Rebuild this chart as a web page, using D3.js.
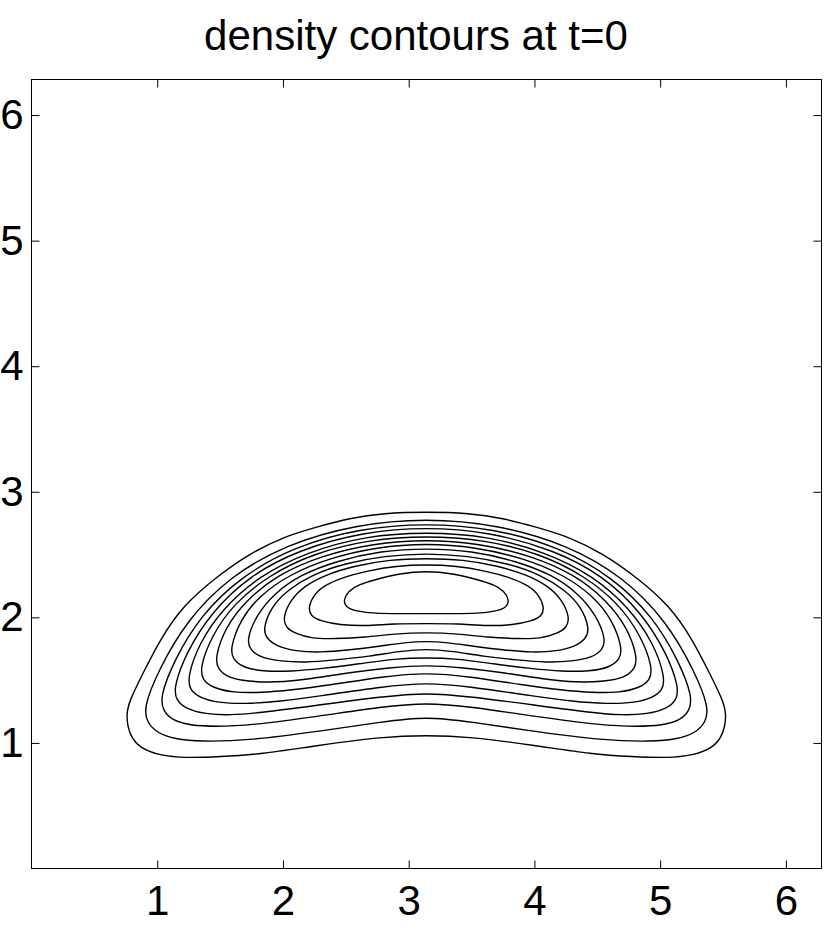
<!DOCTYPE html>
<html><head><meta charset="utf-8">
<script src="https://cdn.jsdelivr.net/npm/d3@7"></script>
<style>html,body{margin:0;padding:0;background:#fff;} svg{display:block;}</style>
</head><body><svg id="chart" width="830" height="929"></svg>
<script>
const titleText = "density contours at t=0";
const xTicks = [1, 2, 3, 4, 5, 6];
const yTicks = [1, 2, 3, 4, 5, 6];
const axisMax = 2 * Math.PI;

// Contour lines (outer to inner), [x, y] in data units
const contour1 = [[3.14,2.84],[2.80,2.83],[2.53,2.79],[2.27,2.72],[2.00,2.64],[1.74,2.51],[1.48,2.33],[1.21,2.10],[1.02,1.82],[0.89,1.56],[0.78,1.34],[0.75,1.22],[0.78,1.06],[0.86,0.96],[1.02,0.90],[1.22,0.88],[1.50,0.89],[1.82,0.91],[2.27,0.98],[2.80,1.05],[3.14,1.06],
  [3.48,1.05],[4.01,0.98],[4.46,0.91],[4.78,0.89],[5.06,0.88],[5.26,0.90],[5.42,0.96],[5.50,1.06],[5.53,1.22],[5.50,1.34],[5.39,1.56],[5.26,1.82],[5.07,2.10],[4.80,2.33],[4.54,2.51],[4.28,2.64],[4.01,2.72],[3.75,2.79],[3.48,2.83]];
const contour2 = [[3.14,2.79],[2.58,2.74],[2.02,2.58],[1.57,2.32],[1.23,1.97],[1.01,1.58],[0.89,1.28],[0.92,1.16],[1.00,1.08],[1.14,1.03],[1.34,1.01],[1.74,1.02],[2.27,1.09],[2.80,1.17],[3.14,1.21],
  [3.48,1.17],[4.01,1.09],[4.54,1.02],[4.94,1.01],[5.14,1.03],[5.28,1.08],[5.36,1.16],[5.39,1.28],[5.27,1.58],[5.05,1.97],[4.71,2.32],[4.26,2.58],[3.70,2.74]];
const contour3 = [[3.14,2.75],[2.61,2.71],[2.08,2.56],[1.66,2.32],[1.34,2.01],[1.13,1.65],[1.02,1.36],[1.05,1.25],[1.12,1.18],[1.26,1.14],[1.46,1.13],[1.74,1.14],[2.27,1.21],[2.80,1.29],[3.14,1.32],
  [3.48,1.29],[4.01,1.21],[4.54,1.14],[4.82,1.13],[5.02,1.14],[5.16,1.18],[5.23,1.25],[5.26,1.36],[5.15,1.65],[4.94,2.01],[4.62,2.32],[4.20,2.56],[3.67,2.71]];
const contour4 = [[3.14,2.72],[2.64,2.68],[2.13,2.54],[1.73,2.33],[1.43,2.04],[1.23,1.72],[1.13,1.44],[1.15,1.34],[1.23,1.27],[1.38,1.23],[1.58,1.22],[1.82,1.24],[2.27,1.30],[2.80,1.37],[3.14,1.40],
  [3.48,1.37],[4.01,1.30],[4.46,1.24],[4.70,1.22],[4.90,1.23],[5.05,1.27],[5.13,1.34],[5.15,1.44],[5.05,1.72],[4.85,2.04],[4.55,2.33],[4.15,2.54],[3.64,2.68]];
const contour5 = [[3.14,2.68],[2.66,2.65],[2.19,2.52],[1.81,2.33],[1.52,2.07],[1.33,1.79],[1.24,1.52],[1.26,1.42],[1.34,1.36],[1.48,1.32],[1.70,1.31],[1.98,1.33],[2.27,1.37],[2.80,1.45],[3.14,1.48],
  [3.48,1.45],[4.01,1.37],[4.30,1.33],[4.58,1.31],[4.80,1.32],[4.94,1.36],[5.02,1.42],[5.04,1.52],[4.95,1.79],[4.76,2.07],[4.47,2.33],[4.09,2.52],[3.62,2.65]];
const contour6 = [[3.14,2.65],[2.69,2.62],[2.24,2.51],[1.88,2.33],[1.61,2.11],[1.43,1.85],[1.34,1.60],[1.36,1.50],[1.44,1.44],[1.60,1.40],[1.82,1.40],[2.06,1.42],[2.37,1.46],[2.80,1.53],[3.14,1.56],
  [3.48,1.53],[3.91,1.46],[4.22,1.42],[4.46,1.40],[4.68,1.40],[4.84,1.44],[4.92,1.50],[4.94,1.60],[4.85,1.85],[4.67,2.11],[4.40,2.33],[4.04,2.51],[3.59,2.62]];
const contour7 = [[3.14,2.62],[2.72,2.59],[2.30,2.49],[1.96,2.34],[1.71,2.14],[1.54,1.92],[1.46,1.68],[1.48,1.59],[1.56,1.52],[1.72,1.49],[1.94,1.48],[2.22,1.51],[2.53,1.56],[2.85,1.60],[3.14,1.62],
  [3.43,1.60],[3.75,1.56],[4.06,1.51],[4.34,1.48],[4.56,1.49],[4.72,1.52],[4.80,1.59],[4.82,1.68],[4.74,1.92],[4.57,2.14],[4.32,2.34],[3.98,2.49],[3.56,2.59]];
const contour8 = [[3.14,2.59],[2.75,2.56],[2.36,2.47],[2.05,2.34],[1.81,2.17],[1.66,1.98],[1.58,1.75],[1.60,1.67],[1.68,1.60],[1.84,1.57],[2.06,1.57],[2.30,1.59],[2.61,1.63],[2.89,1.67],[3.14,1.68],
  [3.39,1.67],[3.67,1.63],[3.98,1.59],[4.22,1.57],[4.44,1.57],[4.60,1.60],[4.68,1.67],[4.70,1.75],[4.62,1.98],[4.47,2.17],[4.23,2.34],[3.92,2.47],[3.53,2.56]];
const contour9 = [[3.14,2.55],[2.78,2.53],[2.43,2.45],[2.14,2.34],[1.93,2.19],[1.79,2.02],[1.71,1.82],[1.74,1.74],[1.82,1.68],[1.98,1.65],[2.18,1.64],[2.41,1.66],[2.69,1.69],[2.93,1.73],[3.14,1.75],
  [3.35,1.73],[3.59,1.69],[3.87,1.66],[4.10,1.64],[4.30,1.65],[4.46,1.68],[4.54,1.74],[4.57,1.82],[4.49,2.02],[4.35,2.19],[4.14,2.34],[3.85,2.45],[3.50,2.53]];
const contour10 = [[3.14,2.51],[2.81,2.49],[2.49,2.43],[2.23,2.34],[2.04,2.22],[1.91,2.09],[1.84,1.91],[1.87,1.83],[1.95,1.77],[2.10,1.73],[2.30,1.72],[2.53,1.74],[2.77,1.77],[2.97,1.80],[3.14,1.81],
  [3.31,1.80],[3.51,1.77],[3.75,1.74],[3.98,1.72],[4.18,1.73],[4.33,1.77],[4.41,1.83],[4.44,1.91],[4.37,2.09],[4.24,2.22],[4.05,2.34],[3.79,2.43],[3.47,2.49]];
const contour11 = [[3.14,2.47],[2.85,2.46],[2.57,2.41],[2.34,2.34],[2.17,2.25],[2.06,2.14],[2.00,2.00],[2.02,1.92],[2.10,1.87],[2.23,1.83],[2.41,1.83],[2.65,1.84],[2.89,1.87],[3.14,1.88],
  [3.39,1.87],[3.63,1.84],[3.87,1.83],[4.05,1.83],[4.18,1.87],[4.26,1.92],[4.28,2.00],[4.22,2.14],[4.11,2.25],[3.94,2.34],[3.71,2.41],[3.43,2.46]];
const contour12 = [[3.14,2.42],[2.90,2.41],[2.67,2.37],[2.48,2.32],[2.34,2.26],[2.25,2.19],[2.20,2.08],[2.22,2.01],[2.30,1.97],[2.45,1.94],[2.65,1.93],[2.89,1.95],[3.14,1.95],
  [3.39,1.95],[3.63,1.93],[3.83,1.94],[3.98,1.97],[4.06,2.01],[4.08,2.08],[4.03,2.19],[3.94,2.26],[3.80,2.32],[3.61,2.37],[3.38,2.41]];
const contour13 = [[3.14,2.37],[2.93,2.35],[2.73,2.30],[2.60,2.26],[2.52,2.21],[2.48,2.14],[2.50,2.08],[2.58,2.05],[2.73,2.03],[2.93,2.03],[3.14,2.03],
  [3.35,2.03],[3.55,2.03],[3.70,2.05],[3.78,2.08],[3.80,2.14],[3.76,2.21],[3.68,2.26],[3.55,2.30],[3.35,2.35]];

const contours = [contour1, contour2, contour3, contour4, contour5, contour6, contour7,
                  contour8, contour9, contour10, contour11, contour12, contour13];

const W = 830, H = 929;
const plot = { left: 31.5, right: 821.5, top: 79.5, bottom: 868.5 };
const FONT = "'Liberation Sans', Arial, Helvetica, sans-serif";

const x = d3.scaleLinear().domain([0, axisMax]).range([plot.left, plot.right]);
const y = d3.scaleLinear().domain([0, axisMax]).range([plot.bottom, plot.top]);

const svg = d3.select("#chart");
svg.append("rect").attr("width", W).attr("height", H).attr("fill", "#fff");

const line = d3.line()
  .x(d => x(d[0])).y(d => y(d[1]))
  .curve(d3.curveBasisClosed);

svg.append("g").attr("class", "contours")
  .selectAll("path").data(contours).join("path")
  .attr("d", line)
  .attr("fill", "none")
  .attr("stroke", "#000")
  .attr("stroke-width", 1.4)
  .attr("stroke-linejoin", "round");

function styleAxis(g) {
  g.select(".domain").remove();
  g.selectAll(".tick line").attr("stroke", "#000").attr("stroke-width", 1);
  g.selectAll(".tick text").attr("fill", "#000")
    .style("font-family", FONT).style("font-size", "42px");
}

svg.append("g").attr("transform", `translate(0,${plot.bottom})`)
  .call(d3.axisBottom(x).tickValues(xTicks).tickSizeInner(-8).tickSizeOuter(0).tickPadding(17).tickFormat(d3.format("d")))
  .call(styleAxis);
svg.append("g").attr("transform", `translate(0,${plot.top})`)
  .call(d3.axisTop(x).tickValues(xTicks).tickSizeInner(-8).tickSizeOuter(0).tickFormat(""))
  .call(styleAxis);
svg.append("g").attr("transform", `translate(${plot.left},0)`)
  .call(d3.axisLeft(y).tickValues(yTicks).tickSizeInner(-8).tickSizeOuter(0).tickPadding(8).tickFormat(d3.format("d")))
  .call(styleAxis);
svg.append("g").attr("transform", `translate(${plot.right},0)`)
  .call(d3.axisRight(y).tickValues(yTicks).tickSizeInner(-8).tickSizeOuter(0).tickFormat(""))
  .call(styleAxis);

svg.append("rect")
  .attr("x", plot.left).attr("y", plot.top)
  .attr("width", plot.right - plot.left).attr("height", plot.bottom - plot.top)
  .attr("fill", "none").attr("stroke", "#000").attr("stroke-width", 1);

svg.append("text")
  .attr("x", 416).attr("y", 50)
  .attr("text-anchor", "middle")
  .style("font-family", FONT).style("font-size", "42px")
  .attr("fill", "#000")
  .text(titleText);
</script>
</body></html>
